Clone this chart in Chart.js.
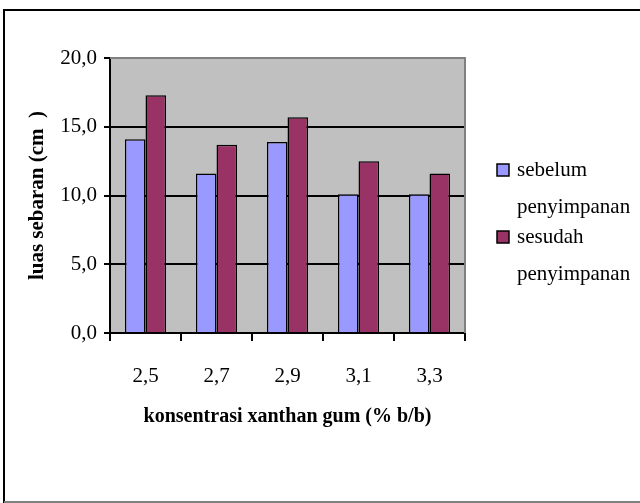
<!DOCTYPE html>
<html>
<head>
<meta charset="utf-8">
<script src="https://cdn.jsdelivr.net/npm/chart.js@4.4.1/dist/chart.umd.min.js"></script>
<style>
  html, body { margin: 0; padding: 0; background: #fff; }
  canvas { display: block; }
</style>
</head>
<body>
<canvas id="luasChart" width="640" height="503"></canvas>
<script>
// data
const categories = ['2,5', '2,7', '2,9', '3,1', '3,3'];
const sebelum = [14.1, 11.6, 13.9, 10.1, 10.1];
const sesudah = [17.3, 13.7, 15.7, 12.5, 11.6];
const seriesNames = [['sebelum', 'penyimpanan'], ['sesudah', 'penyimpanan']];
const yTicks = [0, 5, 10, 15, 20];

const serif = "'Liberation Serif', 'Times New Roman', serif";

// grey plot area + outer frame
const framePlugin = {
    id: 'frame',
    beforeDraw(chart) {
        const c = chart.ctx, a = chart.chartArea;
        c.save();
        c.fillStyle = '#fff';
        c.fillRect(0, 0, chart.width, chart.height);
        c.fillStyle = '#c0c0c0';
        c.fillRect(a.left, a.top, a.right - a.left, a.bottom - a.top);
        c.strokeStyle = '#000';
        c.lineWidth = 2;
        c.beginPath();
        c.moveTo(4, chart.height);
        c.lineTo(4, 10);
        c.lineTo(chart.width, 10);
        c.stroke();
        c.strokeStyle = '#808080';
        c.beginPath();
        c.moveTo(4, 502);
        c.lineTo(chart.width, 502);
        c.stroke();
        c.restore();
    },
    beforeDatasetsDraw(chart) {
        const c = chart.ctx, a = chart.chartArea;
        c.save();
        c.strokeStyle = '#808080';
        c.lineWidth = 2;
        c.beginPath();
        c.moveTo(a.left, a.top);
        c.lineTo(a.right, a.top);
        c.lineTo(a.right, a.bottom);
        c.stroke();
        c.restore();
    }
};

// legend with wrapped labels, on the right
const sideLegend = {
    id: 'sideLegend',
    afterDraw(chart) {
        const c = chart.ctx;
        c.save();
        c.font = '21px ' + serif;
        c.textBaseline = 'middle';
        let y = 170;
        chart.data.datasets.forEach((ds, i) => {
            c.fillStyle = ds.backgroundColor;
            c.fillRect(497, y - 6, 12, 12);
            c.strokeStyle = '#000';
            c.lineWidth = 1.5;
            c.strokeRect(497, y - 6, 12, 12);
            c.fillStyle = '#000';
            ds.label.forEach((line, j) => {
                c.fillText(line, 517, y + j * 37);
            });
            y += 67;
        });
        c.restore();
    }
};

new Chart(document.getElementById('luasChart'), {
    type: 'bar',
    data: {
        labels: categories,
        datasets: [{
            label: seriesNames[0],
            data: sebelum,
            backgroundColor: '#9999ff',
            borderColor: '#000',
            borderWidth: 1.5,
            barPercentage: 1,
            categoryPercentage: 0.58
        }, {
            label: seriesNames[1],
            data: sesudah,
            backgroundColor: '#993366',
            borderColor: '#000',
            borderWidth: 1.5,
            barPercentage: 1,
            categoryPercentage: 0.58
        }]
    },
    options: {
        responsive: false,
        animation: false,
        layout: { padding: { top: 58, right: 175, bottom: 70, left: 0 } },
        plugins: {
            legend: { display: false },
            tooltip: { enabled: false }
        },
        scales: {
            x: {
                afterFit: (axis) => { axis.height = 100; },
                grid: {
                    offset: true,
                    drawOnChartArea: false,
                    tickLength: 8,
                    color: '#000',
                    tickColor: '#000',
                    lineWidth: 2
                },
                border: { color: '#000', width: 2 },
                ticks: {
                    color: '#000',
                    padding: 23,
                    font: { family: serif, size: 21 }
                },
                title: {
                    display: true,
                    text: 'konsentrasi xanthan gum (% b/b)',
                    color: '#000',
                    padding: { top: 0, bottom: 4 },
                    font: { family: serif, size: 20, weight: 'bold' }
                }
            },
            y: {
                min: 0,
                max: 20,
                afterFit: (axis) => { axis.width = 110; },
                afterBuildTicks: (axis) => { axis.ticks = yTicks.map(v => ({ value: v })); },
                grid: {
                    tickLength: 6,
                    lineWidth: 2,
                    color: (ctx) => ctx.tick && ctx.tick.value === 20 ? '#808080' : '#000',
                    tickColor: '#000'
                },
                border: { color: '#000', width: 2 },
                ticks: {
                    color: '#000',
                    padding: 7,
                    font: { family: serif, size: 21 },
                    callback: (v) => v.toFixed(1).replace('.', ',')
                },
                title: {
                    display: true,
                    text: 'luas sebaran (cm  )',
                    color: '#000',
                    padding: { top: 25, bottom: 0 },
                    font: { family: serif, size: 21, weight: 'bold' }
                }
            }
        }
    },
    plugins: [framePlugin, sideLegend]
});
</script>
</body>
</html>
